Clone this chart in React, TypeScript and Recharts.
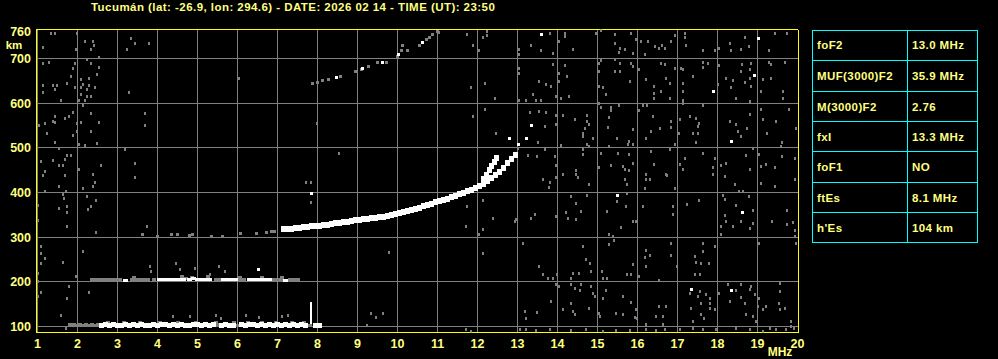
import { ScatterChart, Scatter, XAxis, YAxis, CartesianGrid, ReferenceLine, Label } from 'recharts';

type Pt = [number, number];

const freqTicks = [1, 2, 3, 4, 5, 6, 7, 8, 9, 10, 11, 12, 13, 14, 15, 16, 17, 18, 19, 20];
const gridFreqs = [1, 2, 3, 4, 5, 6, 7, 8, 9, 10, 11, 12, 13, 14, 15, 16, 17, 18, 19];
const heightTicks = [100, 200, 300, 400, 500, 600, 700, 760];
const gridHeights = [100, 200, 300, 400, 500, 600, 700];

const paramNames = ['foF2', 'MUF(3000)F2', 'M(3000)F2', 'fxI', 'foF1', 'ftEs', "h'Es"];
const paramValues = ['13.0 MHz', '35.9 MHz', '2.76', '13.3 MHz', 'NO', '8.1 MHz', '104 km'];

const title = 'Tucumán (lat: -26.9, lon: 294.6) - DATE: 2026 02 14 - TIME (UT): 23:50';

// F2 trace (o and x split above 12 MHz)
const fTrace: Pt[] = [
  [7.15, 318], [7.25, 319], [7.35, 319], [7.45, 320], [7.55, 321], [7.65, 322], [7.75, 323], [7.85, 324],
  [7.95, 325], [8.05, 326], [8.15, 327], [8.25, 328], [8.35, 329], [8.45, 331], [8.55, 332], [8.65, 334],
  [8.75, 335], [8.85, 337], [8.95, 338], [9.05, 339], [9.15, 340], [9.25, 341], [9.35, 342], [9.45, 343],
  [9.55, 345], [9.65, 346], [9.75, 348], [9.85, 350], [9.95, 351], [10.05, 353], [10.15, 356], [10.25, 358],
  [10.35, 361], [10.45, 364], [10.55, 366], [10.65, 369], [10.75, 372], [10.85, 375], [10.95, 378], [11.05, 381],
  [11.15, 384], [11.25, 386], [11.35, 389], [11.45, 392], [11.55, 396], [11.65, 399], [11.75, 403], [11.85, 406],
  [11.95, 410], [12.05, 414], [12.15, 420], [12.25, 426], [12.35, 433], [12.45, 440], [12.55, 446], [12.65, 455],
  [12.75, 466], [12.85, 476], [12.95, 485],
  [12.15, 430], [12.22, 440], [12.3, 450], [12.36, 460], [12.42, 468], [12.48, 477],
];

// Es trace near 104 km
const eWhite: Pt[] = [
  [2.6, 103], [2.7, 104], [2.8, 103], [2.9, 104], [3.0, 103], [3.1, 103], [3.2, 104], [3.3, 103], [3.4, 104],
  [3.5, 103], [3.6, 104], [3.7, 103], [3.8, 103], [3.9, 104], [4.0, 103], [4.1, 104], [4.2, 104], [4.3, 103],
  [4.4, 104], [4.5, 103], [4.6, 104], [4.7, 103], [4.8, 103], [4.9, 104], [5.0, 104], [5.1, 103], [5.2, 104],
  [5.3, 103], [5.4, 104], [5.6, 103], [5.7, 104], [5.8, 103], [5.9, 103], [6.1, 104], [6.2, 103], [6.3, 104],
  [6.4, 104], [6.5, 103], [6.6, 104], [6.7, 103], [6.8, 104], [6.9, 103], [7.0, 104], [7.1, 103], [7.2, 104],
  [7.3, 103], [7.4, 104], [7.5, 103], [7.6, 104], [7.7, 103], [7.95, 103], [8.05, 102],
];
const eGray: Pt[] = [
  [1.8, 104], [1.86, 103], [1.92, 104], [1.98, 103], [2.05, 104], [2.12, 103], [2.2, 104], [2.28, 103],
  [2.36, 104], [2.45, 103], [2.52, 104], [5.5, 104], [6.0, 103], [7.8, 103],
  [2.75, 109], [3.15, 110], [3.55, 109], [4.05, 110], [4.5, 109], [4.95, 110], [5.45, 109], [5.9, 110],
  [6.25, 109], [6.6, 110], [6.95, 109], [7.35, 110], [7.65, 109],
];
const eSpike: Pt[] = [[7.84, 112], [7.84, 118], [7.84, 124], [7.84, 130], [7.84, 136], [7.84, 142], [7.84, 148]];

// second hop Es near 205 km
const es2White: Pt[] = [
  [3.2, 203], [4.05, 205], [4.15, 205], [4.25, 206], [4.35, 205], [4.45, 205], [4.55, 206], [4.65, 205],
  [4.8, 206], [4.9, 207], [5.0, 206], [5.1, 205], [5.2, 206], [5.3, 205], [5.65, 205], [5.75, 206],
  [5.85, 205], [5.95, 205], [6.3, 205], [6.4, 206], [6.5, 205], [6.6, 205], [6.7, 206], [6.8, 205], [7.2, 204],
];
const es2Gray: Pt[] = [
  [2.35, 205], [2.45, 206], [2.55, 205], [2.65, 206], [2.75, 205], [2.85, 206], [2.95, 205], [3.05, 205],
  [3.35, 206], [3.45, 205], [3.55, 205], [3.65, 206], [3.75, 205], [3.9, 205], [4.7, 208], [5.45, 205],
  [5.55, 206], [6.05, 205], [6.15, 206], [6.9, 206], [7.0, 205], [7.1, 206], [7.3, 205], [7.4, 206], [7.5, 205],
  [3.4, 210], [4.6, 211], [4.85, 210], [5.25, 211], [6.05, 210], [6.6, 210], [7.1, 210],
];

// isolated white echoes
const whiteDots: Pt[] = [
  [13.59, 754], [19.03, 744], [18.93, 663], [17.91, 626], [13.34, 550], [13.22, 522], [13.03, 507],
  [12.8, 522], [18.34, 514], [15.49, 394], [18.63, 356], [17.34, 182], [18.34, 180],
  [8.47, 658], [9.13, 678], [9.63, 692], [10.03, 708], [10.63, 736], [7.84, 398], [6.53, 227],
];

// second hop F and low-level 303 km echoes
const hop2Gray: Pt[] = [
  [7.88, 643], [7.99, 647], [8.13, 651], [8.28, 654], [8.57, 660], [8.95, 672], [9.09, 675], [9.28, 683],
  [9.51, 691], [9.72, 690], [10.01, 704], [10.09, 717], [10.26, 719], [10.13, 730], [10.55, 730],
  [10.72, 742], [10.8, 747], [10.88, 753], [11.01, 760],
  [3.63, 305], [4.01, 301], [4.34, 305], [4.51, 305], [4.8, 303], [4.88, 305], [5.34, 301], [5.63, 301],
  [6.08, 309], [6.48, 309], [6.72, 311], [6.84, 312], [6.93, 312],
];

// background noise, low band (1-10.5 MHz)
const noiseLow: Pt[] = [
  [1.34, 756], [1.44, 756], [1.98, 756], [1.13, 725], [1.95, 721], [2.19, 739], [2.38, 739], [2.4, 730],
  [2.34, 721], [3.34, 744], [3.44, 734], [3.23, 721], [3.78, 734], [2.53, 703], [1.13, 688], [1.28, 692],
  [1.94, 689], [1.88, 678], [2.34, 688], [2.53, 680], [2.23, 698], [1.84, 660], [2.09, 652], [2.48, 665],
  [2.28, 656], [1.13, 639], [1.38, 639], [1.49, 639], [1.74, 643], [1.44, 630], [1.94, 634], [2.09, 634],
  [2.13, 642], [2.23, 630], [2.28, 639], [2.44, 634], [1.13, 625], [2.09, 619], [2.23, 614], [2.34, 616],
  [1.59, 607], [2.03, 607], [2.19, 607], [3.28, 625], [6.03, 656], [2.13, 594], [1.43, 571], [1.88, 580],
  [1.78, 571], [1.68, 566], [2.34, 576], [3.68, 576], [1.18, 555], [1.38, 559], [1.44, 557], [1.03, 549],
  [1.98, 554], [2.09, 557], [2.53, 557], [3.68, 549], [1.24, 531], [1.88, 527], [1.98, 536], [2.34, 536],
  [1.44, 513], [2.03, 507], [2.19, 505], [2.48, 509], [1.53, 499], [3.18, 496], [1.74, 482], [1.84, 482],
  [1.09, 470], [1.38, 471], [1.69, 473], [1.53, 460], [1.64, 460], [2.59, 460], [3.44, 464], [2.03, 451],
  [1.18, 446], [1.13, 438], [1.68, 438], [2.38, 440], [3.44, 434], [7.98, 554], [8.53, 487],
  [1.18, 403], [1.63, 396], [1.53, 413], [1.7, 403], [1.65, 387], [2.13, 409], [2.38, 413], [2.43, 423],
  [2.23, 391], [2.47, 381], [2.34, 368], [2.26, 361], [1.73, 368], [1.73, 356], [1.53, 365], [1.73, 324],
  [2.45, 311], [3.73, 324], [1.01, 372], [1.01, 338], [1.09, 279], [1.09, 264], [1.18, 253], [1.09, 242],
  [1.01, 219], [1.63, 244], [2.13, 269], [1.01, 201], [1.09, 177], [1.01, 167], [1.78, 190], [1.73, 163],
  [2.28, 177], [1.59, 125], [1.97, 212], [2.38, 204], [3.8, 234], [3.84, 223], [4.47, 242], [4.55, 227],
  [4.93, 230], [5.53, 234], [5.68, 224], [5.3, 217], [7.7, 423], [7.84, 423], [7.84, 377], [9.78, 266],
  [9.34, 128], [9.63, 130], [9.45, 120], [9.23, 102], [4.38, 122], [4.8, 122], [5.47, 125], [5.59, 119],
  [6.22, 125], [6.53, 120], [7.12, 122], [7.26, 125], [1.72, 95],
];

// background noise, upper part of high band
const noiseHighTop: Pt[] = [
  [11.03, 759], [11.73, 753], [12.23, 760], [12.23, 751], [12.13, 747], [11.88, 730], [12.03, 717],
  [13.8, 756], [14.03, 739], [14.18, 756], [14.18, 749], [14.38, 721], [13.88, 712], [13.59, 717],
  [13.34, 730], [13.03, 721], [13.03, 708], [15.09, 762], [14.95, 756], [15.44, 754], [15.84, 756],
  [15.97, 742], [15.44, 734], [15.55, 723], [15.53, 714], [15.68, 721], [15.88, 712], [16.09, 738],
  [16.18, 710], [16.26, 738], [16.43, 727], [16.53, 723], [16.62, 730], [16.68, 723], [16.84, 739],
  [16.93, 751], [17.18, 756], [17.18, 747], [17.2, 730], [17.63, 717], [17.93, 717], [18.03, 723],
  [18.3, 734], [18.34, 717], [18.59, 721], [18.68, 747], [18.78, 727], [19.28, 717], [19.44, 756],
  [19.73, 756], [15.09, 695], [15.03, 689], [15.03, 671], [15.44, 697], [15.55, 689], [15.44, 671],
  [15.55, 671], [15.84, 689], [15.88, 682], [16.03, 675], [16.59, 689], [16.68, 687], [16.93, 678],
  [17.09, 678], [17.13, 675], [17.38, 660], [17.63, 692], [17.63, 680], [17.76, 689], [18.03, 684],
  [18.62, 687], [18.84, 689], [18.8, 675], [18.59, 671], [19.28, 692], [19.68, 692], [19.34, 687],
  [19.13, 652], [19.34, 656], [18.38, 650], [18.22, 656], [18.68, 647], [18.82, 656], [18.84, 637],
  [19.09, 626], [19.63, 626], [19.63, 611], [18.8, 604], [18.47, 611], [18.34, 635], [18.01, 642],
  [17.63, 595], [17.13, 645], [17.13, 626], [17.13, 607], [17.13, 600], [16.8, 645], [16.8, 611],
  [16.72, 656], [16.59, 626], [16.4, 637], [16.4, 622], [16.4, 611], [16.2, 652], [15.8, 648],
  [15.22, 620], [15.03, 637], [15.13, 634], [14.23, 660], [14.03, 667], [14.03, 648], [13.84, 637],
  [13.72, 641], [13.53, 648], [13.03, 678], [13.03, 667], [13.88, 687], [14.18, 684], [13.95, 615],
  [14.09, 611], [14.28, 615], [13.38, 619], [13.22, 607], [13.47, 607], [13.59, 607], [12.18, 645],
  [11.84, 634], [12.44, 611], [12.18, 585], [11.88, 570], [13.03, 607], [13.3, 578], [13.53, 581],
  [13.72, 578], [13.97, 572], [14.13, 572], [14.43, 563], [14.73, 572], [14.73, 559], [14.78, 553],
  [14.68, 544], [14.63, 531], [14.63, 525], [14.73, 507], [14.78, 503], [14.88, 522], [13.97, 553],
  [13.68, 548], [12.47, 531], [13.51, 511], [14.09, 505], [15.26, 546], [15.28, 568], [15.34, 590],
  [15.34, 583], [15.03, 600], [15.08, 591], [15.53, 595], [16.03, 583], [16.13, 595], [16.24, 595],
  [16.38, 570], [15.88, 540], [15.78, 514], [15.76, 507], [15.88, 507], [15.49, 522], [15.28, 503],
  [16.22, 522], [16.34, 537], [16.55, 544], [16.84, 546], [17.05, 563], [16.84, 559], [17.3, 570],
  [17.47, 566], [17.53, 555], [17.51, 548], [17.38, 533], [17.47, 511], [17.51, 533], [16.93, 507],
  [17.03, 531], [18.3, 559], [18.47, 552], [18.51, 537], [18.59, 525], [18.73, 544], [18.8, 574],
  [19.09, 585], [19.13, 563], [19.45, 560], [19.78, 585], [19.97, 544], [19.23, 531], [19.62, 511],
  [19.59, 503], [18.88, 499], [18.72, 483], [19.03, 486], [19.62, 481], [19.93, 477], [19.2, 462],
  [19.09, 458], [19.43, 455], [18.8, 451], [18.09, 461], [18.22, 464], [17.93, 477], [17.88, 455],
  [17.88, 440], [18.18, 436], [17.63, 488], [17.18, 477], [17.05, 462], [17.13, 451], [16.72, 440],
  [16.4, 462], [16.22, 440], [15.88, 464], [15.68, 451], [15.63, 458], [15.78, 449], [15.34, 461],
  [15.03, 455], [14.47, 449], [14.47, 440], [14.13, 440], [13.93, 481], [13.95, 461], [13.48, 481],
  [13.26, 483], [13.01, 498], [13.68, 496], [14.63, 486], [14.63, 496], [15.09, 488], [15.51, 488],
  [15.78, 485], [16.34, 491], [16.8, 496],
];

// background noise, lower part of high band
const noiseHighLow: Pt[] = [
  [13.63, 428], [13.8, 423], [13.78, 411], [13.95, 433], [14.51, 433], [14.78, 418], [15.68, 428],
  [15.73, 417], [15.73, 398], [16.22, 428], [16.3, 428], [16.18, 408], [16.73, 438], [16.93, 408],
  [18.43, 417], [18.53, 403], [18.63, 403], [18.78, 391], [18.13, 393], [18.18, 385], [18.45, 372],
  [18.88, 359], [19.09, 421], [19.43, 413], [19.93, 430], [19.73, 359], [19.37, 336], [19.73, 329],
  [19.88, 333], [19.93, 316], [19.93, 301], [19.95, 286], [19.03, 286], [18.88, 331], [18.8, 320],
  [18.59, 336], [18.38, 324], [18.22, 336], [18.09, 324], [18.09, 305], [18.18, 348], [17.63, 286],
  [17.63, 269], [17.93, 279], [17.43, 257], [17.47, 244], [17.59, 242], [17.78, 242], [17.43, 217],
  [17.57, 217], [17.53, 381], [17.23, 374], [16.88, 368], [16.88, 350], [16.13, 368], [15.97, 336],
  [15.88, 336], [15.59, 321], [15.28, 305], [15.38, 301], [15.4, 292], [15.28, 283], [15.7, 368],
  [15.48, 380], [15.23, 357], [14.73, 394], [14.45, 376], [14.59, 357], [14.34, 391], [14.2, 356],
  [14.26, 341], [14.45, 339], [13.97, 346], [13.43, 350], [13.34, 342], [12.93, 335], [12.97, 339],
  [12.13, 381], [11.73, 368], [12.38, 342], [11.7, 324], [12.13, 318], [12.03, 305], [12.13, 264],
  [13.13, 286], [13.53, 234], [13.63, 217], [13.76, 208], [13.88, 207], [13.98, 217], [14.34, 208],
  [14.38, 219], [14.53, 219], [14.63, 279], [14.7, 249], [14.82, 242], [14.84, 223], [15.12, 223],
  [15.13, 208], [15.23, 207], [15.73, 216], [15.84, 216], [15.88, 238], [16.03, 212], [16.2, 271],
  [16.18, 254], [16.2, 234], [16.3, 260], [16.84, 286], [16.84, 260], [16.98, 234], [16.53, 202],
  [13.97, 193], [14.03, 190], [14.34, 195], [14.43, 186], [14.55, 180], [14.59, 193], [14.84, 190],
  [14.88, 175], [14.94, 167], [15.13, 162], [15.2, 180], [15.63, 167], [15.84, 154], [14.34, 152],
  [14.13, 137], [13.84, 156], [13.48, 132], [13.18, 134], [13.22, 119], [14.38, 134], [14.43, 126],
  [14.78, 141], [15.03, 130], [15.05, 122], [15.45, 130], [15.63, 126], [15.93, 120], [15.97, 137],
  [15.98, 117], [16.47, 122], [16.53, 145], [16.63, 122], [16.72, 145], [16.22, 105], [16.63, 105],
  [17.3, 175], [17.57, 178], [17.59, 152], [17.51, 167], [17.72, 171], [17.8, 163], [17.8, 152],
  [17.8, 141], [18.03, 175], [17.93, 137], [17.34, 141], [17.38, 111], [17.59, 126], [17.65, 117],
  [18.26, 193], [18.3, 156], [18.47, 180], [18.59, 165], [18.68, 152], [18.72, 126], [18.88, 122],
  [18.97, 111], [19.01, 145], [19.13, 137], [19.22, 145], [19.55, 197], [19.55, 178], [19.53, 152],
  [19.55, 137], [19.68, 141], [19.84, 111], [18.59, 193], [18.84, 190], [18.93, 171], [19.03, 162],
  [18.8, 182], [19.9, 96], [19.84, 100], [19.72, 93], [19.47, 93], [19.3, 96], [19.13, 89], [18.8, 93],
  [18.47, 95], [17.97, 93], [17.63, 93], [17.38, 95], [17.05, 93], [16.68, 93], [16.47, 90], [16.22, 93],
  [15.8, 90], [15.47, 90], [15.13, 89], [14.72, 93], [14.34, 90], [13.8, 93], [13.47, 90], [13.22, 93],
  [13.05, 93], [11.84, 89], [11.7, 93],
];

const toRows = (pts: Pt[]) => pts.map(([f, h]) => ({ f, h }));

const block = (w: number, h: number, fill: string) => (p: any) => (
  <rect x={p.cx - w / 2} y={p.cy - h / 2} width={w} height={h} fill={fill} />
);

const YELLOW = '#ffff00';
const TEXT = '#ffff80';
const GRAY = '#808080';
const FONT = '"Liberation Sans", Arial, sans-serif';

const tickStyle = { fill: TEXT, fontSize: 12.5, fontWeight: 'bold', fontFamily: FONT };

const KmLabel = (props: any) => {
  const vb = props.viewBox;
  return (
    <text x={vb.x + 14} y={vb.y + 19.5} fill={TEXT} fontSize={11.5} fontWeight="bold" fontFamily={FONT} textAnchor="middle">
      km
    </text>
  );
};

const MhzLabel = (props: any) => {
  const vb = props.viewBox;
  return (
    <text x={vb.x + vb.width - 18} y={vb.y + 23} fill={TEXT} fontSize={12} fontWeight="bold" fontFamily={FONT} textAnchor="middle">
      MHz
    </text>
  );
};

const ROW_H = 30.3;

export default function App() {
  return (
    <div style={{ position: 'absolute', left: 0, top: 0, width: 998, height: 359, background: '#000', overflow: 'hidden', shapeRendering: 'crispEdges' }}>
      <div
        style={{
          position: 'absolute', left: 91, top: 0, color: TEXT, fontFamily: FONT, fontWeight: 'bold',
          fontSize: 11.5, letterSpacing: 0.45, lineHeight: '14px', whiteSpace: 'nowrap',
        }}
      >
        {title}
      </div>
      <ScatterChart width={998} height={359} margin={{ top: 29.5, right: 200, bottom: 0.5, left: 0 }}>
        <CartesianGrid stroke={GRAY} horizontalValues={gridHeights} verticalValues={gridFreqs} />
        <XAxis
          type="number"
          dataKey="f"
          domain={[0.9625, 20.0125]}
          ticks={freqTicks}
          allowDataOverflow
          height={26}
          tickLine={false}
          tickSize={0}
          tickMargin={7}
          axisLine={{ stroke: YELLOW }}
          tick={tickStyle}
          interval={0}
        >
          <Label content={MhzLabel} />
        </XAxis>
        <YAxis
          type="number"
          dataKey="h"
          domain={[86.57, 764.93]}
          ticks={heightTicks}
          allowDataOverflow
          width={36}
          tickLine={false}
          tickSize={0}
          tickMargin={5}
          axisLine={{ stroke: YELLOW }}
          tick={tickStyle}
          interval={0}
        >
          <Label content={KmLabel} />
        </YAxis>
        <ReferenceLine y={764.93} stroke={YELLOW} />
        <ReferenceLine x={20.0125} stroke={YELLOW} />
        <Scatter data={toRows(noiseLow)} shape={block(2, 3, GRAY)} isAnimationActive={false} />
        <Scatter data={toRows(noiseHighTop)} shape={block(2, 3, GRAY)} isAnimationActive={false} />
        <Scatter data={toRows(noiseHighLow)} shape={block(2, 3, GRAY)} isAnimationActive={false} />
        <Scatter data={toRows(hop2Gray)} shape={block(3, 3, GRAY)} isAnimationActive={false} />
        <Scatter data={toRows(eGray)} shape={block(4, 3, GRAY)} isAnimationActive={false} />
        <Scatter data={toRows(es2Gray)} shape={block(4, 3, GRAY)} isAnimationActive={false} />
        <Scatter data={toRows(es2White)} shape={block(5, 3, '#ffffff')} isAnimationActive={false} />
        <Scatter data={toRows(eWhite)} shape={block(5, 5, '#ffffff')} isAnimationActive={false} />
        <Scatter data={toRows(eSpike)} shape={block(2, 6, '#ffffff')} isAnimationActive={false} />
        <Scatter data={toRows(fTrace)} shape={block(5, 6, '#ffffff')} isAnimationActive={false} />
        <Scatter data={toRows(whiteDots)} shape={block(3, 3, '#ffffff')} isAnimationActive={false} />
      </ScatterChart>
      <div style={{ position: 'absolute', left: 812, top: 30, width: 166, height: ROW_H * paramNames.length + 1, border: '1px solid #00ffff', boxSizing: 'border-box' }} />
      {paramNames.map((name, i) => (
        <div
          key={name}
          style={{
            position: 'absolute', left: 812, top: 30 + i * ROW_H, width: 166, height: ROW_H,
            borderTop: i > 0 ? '1px solid #00ffff' : 'none', boxSizing: 'border-box',
            fontFamily: FONT, fontWeight: 'bold', fontSize: 11.5, letterSpacing: 0.4, color: TEXT,
          }}
        >
          <div style={{ position: 'absolute', left: 5, top: 0, lineHeight: `${ROW_H}px` }}>{name}</div>
          <div style={{ position: 'absolute', left: 95, top: 0, height: ROW_H, borderLeft: '1px solid #00ffff' }} />
          <div style={{ position: 'absolute', left: 100, top: 0, lineHeight: `${ROW_H}px` }}>{paramValues[i]}</div>
        </div>
      ))}
    </div>
  );
}
